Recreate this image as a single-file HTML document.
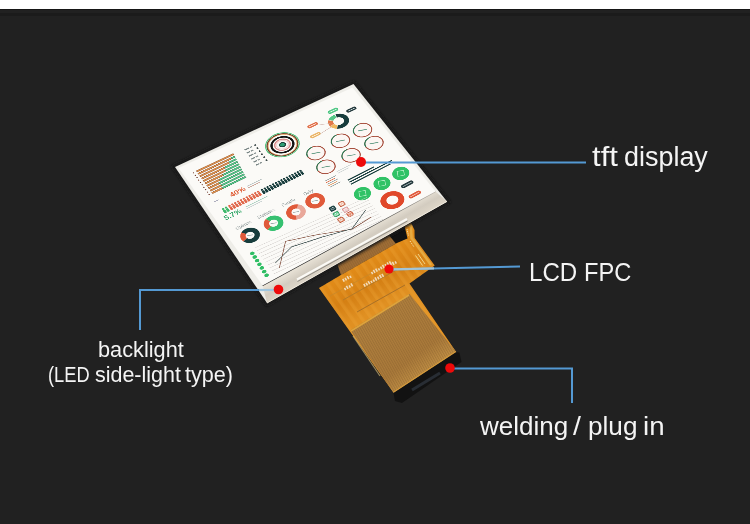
<!DOCTYPE html>
<html><head><meta charset="utf-8">
<style>
html,body{margin:0;padding:0;}
body{width:750px;height:524px;overflow:hidden;background:#212121;position:relative;font-family:"Liberation Sans",sans-serif;}
#top{position:absolute;left:0;top:0;width:750px;height:9px;background:#fff;}
#strip{position:absolute;left:0;top:9px;width:750px;height:1px;background:#161616;}
#strip2{position:absolute;left:0;top:13px;width:750px;height:3px;background:#1b1b1b;}
.abs{position:absolute;left:0;top:0;}
#mod{position:absolute;left:0;top:0;width:470px;height:355px;transform-origin:0 0;
 transform:matrix3d(0.4411168484,-0.1536762916,0,0.0002011463331,0.2080369135,0.2996042959,0,-0.0001099181072,0,0,1,0,178.5,168,0,1);}
#mod svg{display:block;}
.t{position:absolute;color:#f4f4f4;white-space:pre;transform-origin:0 0;line-height:1;}
</style></head><body>
<div id="top"></div>
<div id="strip"></div>
<div id="strip2"></div>
<svg class="abs" width="750" height="524" viewBox="0 0 750 524">
<defs>
  <linearGradient id="gb" gradientUnits="userSpaceOnUse" x1="370" y1="262" x2="392" y2="300">
   <stop offset="0" stop-color="#e08a18"/>
   <stop offset="0.5" stop-color="#d58014"/>
   <stop offset="1" stop-color="#e09022"/>
  </linearGradient>
  <linearGradient id="gt" gradientUnits="userSpaceOnUse" x1="380" y1="312" x2="425" y2="372">
   <stop offset="0" stop-color="#b0803e"/>
   <stop offset="0.75" stop-color="#aa7a3a"/>
   <stop offset="1" stop-color="#bf8e44"/>
  </linearGradient>
  <pattern id="vs" patternUnits="userSpaceOnUse" width="2.2" height="2.2" patternTransform="rotate(-30)">
   <rect x="0" y="0" width="1" height="2.2" fill="#7a5628" opacity="0.35"/>
  </pattern>
  <pattern id="bs" patternUnits="userSpaceOnUse" width="8" height="8" patternTransform="rotate(-35)">
   <rect x="0" y="0" width="3.5" height="8" fill="#f0a838" opacity="0.3"/>
  </pattern>
 </defs>
<polygon points="337,263 392,232 397,243 341,275" fill="#a06e36"/>
<polygon points="337,263 392,232 397,243 341,275" fill="url(#vs)"/>
<polygon points="388,234 405,225 408,239 397,245" fill="#121212"/>
<polygon points="319,288 341,275 397,243 407.5,238.5 404,223.5 411,223 414.5,230 414.6,238 434.7,265.6 409.5,283.5 456,351.7 393.5,392.4" fill="url(#gb)"/>
<polygon points="319,288 341,275 397,243 407.5,238.5 404,223.5 411,223 414.5,230 414.6,238 434.7,265.6 409.5,283.5 456,351.7 393.5,392.4" fill="url(#bs)"/>
<polyline points="406,224 411,226 411.5,238 431,265" fill="none" stroke="#e6aa40" stroke-width="2.5"/>
<line x1="407" y1="229" x2="408.5" y2="236" stroke="#f4e4b0" stroke-width="1" stroke-dasharray="1.2,1"/>
<line x1="410" y1="241" x2="414" y2="247" stroke="#f4e4b0" stroke-width="1" stroke-dasharray="1.2,1"/>
<line x1="418" y1="254" x2="425" y2="264" stroke="#f2d88a" stroke-width="1"/>
<line x1="415.5" y1="255.5" x2="422.5" y2="265.5" stroke="#f2d88a" stroke-width="1"/>
<polygon points="350.5,330.3 409.5,293.9 456,351.7 393.5,392.4" fill="url(#gt)"/>
<polygon points="350.5,330.3 409.5,293.9 456,351.7 393.5,392.4" fill="url(#vs)"/>
<line x1="351" y1="331" x2="409" y2="295" stroke="#e0a43a" stroke-width="1.5"/>
<line x1="357" y1="312" x2="405" y2="285" stroke="#a87028" stroke-width="1"/>
<line x1="343" y1="300" x2="398" y2="269" stroke="#b47a28" stroke-width="1"/>
<line x1="330" y1="296" x2="392" y2="262" stroke="#c8882a" stroke-width="0.8"/>
<g transform="translate(372,274.5) rotate(-28)"><rect x="0.0" y="-2.5" width="1.6" height="2.5" fill="#f8efe0" opacity="0.8"/><rect x="2.6" y="-3.5" width="1.6" height="3.5" fill="#f8efe0" opacity="0.8"/><rect x="5.2" y="-3.5" width="1.6" height="3.5" fill="#f8efe0" opacity="0.8"/><rect x="7.8" y="-2.5" width="1.6" height="2.5" fill="#f8efe0" opacity="0.8"/><rect x="10.4" y="-3.0" width="1.6" height="3" fill="#f8efe0" opacity="0.8"/><rect x="13.0" y="-3.5" width="1.6" height="3.5" fill="#f8efe0" opacity="0.8"/><rect x="15.6" y="-3.0" width="1.6" height="3" fill="#f8efe0" opacity="0.8"/><rect x="18.2" y="-3.5" width="1.6" height="3.5" fill="#f8efe0" opacity="0.8"/><rect x="20.8" y="-3.5" width="1.6" height="3.5" fill="#f8efe0" opacity="0.8"/></g>
<g transform="translate(391,266.5) rotate(-28)"><rect x="0.0" y="-2.5" width="1.6" height="2.5" fill="#f8efe0" opacity="0.8"/><rect x="2.6" y="-3.5" width="1.6" height="3.5" fill="#f8efe0" opacity="0.8"/><rect x="5.2" y="-2.5" width="1.6" height="2.5" fill="#f8efe0" opacity="0.8"/></g>
<g transform="translate(364.5,287) rotate(-28)"><rect x="0.0" y="-3.0" width="1.6" height="3" fill="#f8efe0" opacity="0.8"/><rect x="2.6" y="-3.0" width="1.6" height="3" fill="#f8efe0" opacity="0.8"/><rect x="5.2" y="-3.5" width="1.6" height="3.5" fill="#f8efe0" opacity="0.8"/><rect x="7.8" y="-2.5" width="1.6" height="2.5" fill="#f8efe0" opacity="0.8"/><rect x="10.4" y="-2.5" width="1.6" height="2.5" fill="#f8efe0" opacity="0.8"/><rect x="13.0" y="-3.5" width="1.6" height="3.5" fill="#f8efe0" opacity="0.8"/><rect x="15.6" y="-3.0" width="1.6" height="3" fill="#f8efe0" opacity="0.8"/><rect x="18.2" y="-3.5" width="1.6" height="3.5" fill="#f8efe0" opacity="0.8"/><rect x="20.8" y="-3.5" width="1.6" height="3.5" fill="#f8efe0" opacity="0.8"/></g>
<g transform="translate(343.5,282) rotate(-28)"><rect x="0.0" y="-3.0" width="1.6" height="3" fill="#f8efe0" opacity="0.8"/><rect x="2.6" y="-3.0" width="1.6" height="3" fill="#f8efe0" opacity="0.8"/><rect x="5.2" y="-3.5" width="1.6" height="3.5" fill="#f8efe0" opacity="0.8"/><rect x="7.8" y="-2.5" width="1.6" height="2.5" fill="#f8efe0" opacity="0.8"/></g>
<g transform="translate(345,290.5) rotate(-28)"><rect x="0.0" y="-2.5" width="1.6" height="2.5" fill="#f8efe0" opacity="0.8"/><rect x="2.6" y="-3.5" width="1.6" height="3.5" fill="#f8efe0" opacity="0.8"/><rect x="5.2" y="-2.5" width="1.6" height="2.5" fill="#f8efe0" opacity="0.8"/><rect x="7.8" y="-3.5" width="1.6" height="3.5" fill="#f8efe0" opacity="0.8"/></g>
<line x1="353" y1="336" x2="380" y2="376" stroke="#f0d080" stroke-width="1.2" opacity="0.6"/>
<line x1="393.5" y1="392.4" x2="456" y2="351.7" stroke="#d49a3c" stroke-width="1.5"/>
<polygon points="393.5,393 456,352.2 459.4,352.5 461.5,362 402,403 395,401" fill="#121212"/>
<line x1="412" y1="390" x2="440" y2="373" stroke="#3a4450" stroke-width="3" opacity="0.55"/>
</svg>
<svg class="abs" width="750" height="524" viewBox="0 0 750 524">
 <defs>
  <linearGradient id="bz" gradientUnits="userSpaceOnUse" x1="349" y1="238" x2="357" y2="252">
   <stop offset="0" stop-color="#e8e2d6"/>
   <stop offset="0.55" stop-color="#d3ccc0"/>
   <stop offset="1" stop-color="#ddd5c7"/>
  </linearGradient>
  <linearGradient id="bl" gradientUnits="userSpaceOnUse" x1="262" y1="285" x2="436" y2="191">
   <stop offset="0" stop-color="#1a1a1a"/>
   <stop offset="0.6" stop-color="#2a2a2a"/>
   <stop offset="1" stop-color="#b8b2a8"/>
  </linearGradient>
  <filter id="blr" x="-10%" y="-10%" width="120%" height="120%"><feGaussianBlur stdDeviation="1.5"/></filter>
 </defs>
 <polygon points="175,167 353.5,84 447,201.4 267,303" fill="none" stroke="#121212" stroke-width="5" filter="url(#blr)"/>
 <polygon points="175,167 353.5,84 447,201.4 267,303" fill="#eeede8"/>
 <polygon points="262.6,285.5 435.5,191.5 447,201.4 267,303" fill="url(#bz)"/>
 <line x1="262.6" y1="285.5" x2="435.5" y2="191.5" stroke="url(#bl)" stroke-width="1.3"/>
 <line x1="297" y1="279.5" x2="407" y2="219" stroke="#fbfaf6" stroke-width="2"/>
 <line x1="297.5" y1="281.5" x2="407.5" y2="221" stroke="#8d8982" stroke-width="1"/>
 <line x1="267" y1="303" x2="447" y2="201.4" stroke="#eee8dc" stroke-width="1"/>
</svg>

<div id="mod">
<svg width="470" height="355" viewBox="0 0 470 355">
<rect x="0" y="0" width="470" height="355" fill="#fbfaf7"/>
<circle cx="21.5" cy="28.0" r="1.5" fill="#6a3325"/>
<rect x="123.0" y="26.0" width="0.0" height="4" fill="#58c489" stroke="#2a7a50" stroke-width="0.8"/>
<rect x="29" y="26.0" width="94.0" height="4" fill="#d9904e" stroke="#8a4a25" stroke-width="0.8"/>
<circle cx="21.5" cy="35.5" r="1.5" fill="#6a3325"/>
<rect x="112.7" y="33.5" width="9.3" height="4" fill="#58c489" stroke="#2a7a50" stroke-width="0.8"/>
<rect x="29" y="33.5" width="83.7" height="4" fill="#d9904e" stroke="#8a4a25" stroke-width="0.8"/>
<circle cx="21.5" cy="43.0" r="1.5" fill="#6a3325"/>
<rect x="102.6" y="41.0" width="18.4" height="4" fill="#58c489" stroke="#2a7a50" stroke-width="0.8"/>
<rect x="29" y="41.0" width="73.6" height="4" fill="#d9904e" stroke="#8a4a25" stroke-width="0.8"/>
<circle cx="21.5" cy="50.5" r="1.5" fill="#6a3325"/>
<rect x="87.2" y="48.5" width="32.8" height="4" fill="#58c489" stroke="#2a7a50" stroke-width="0.8"/>
<rect x="29" y="48.5" width="58.2" height="4" fill="#d9904e" stroke="#8a4a25" stroke-width="0.8"/>
<circle cx="21.5" cy="58.0" r="1.5" fill="#6a3325"/>
<rect x="84.8" y="56.0" width="34.2" height="4" fill="#58c489" stroke="#2a7a50" stroke-width="0.8"/>
<rect x="29" y="56.0" width="55.8" height="4" fill="#d9904e" stroke="#8a4a25" stroke-width="0.8"/>
<circle cx="21.5" cy="65.5" r="1.5" fill="#6a3325"/>
<rect x="73.5" y="63.5" width="44.5" height="4" fill="#58c489" stroke="#2a7a50" stroke-width="0.8"/>
<rect x="29" y="63.5" width="44.5" height="4" fill="#d9904e" stroke="#8a4a25" stroke-width="0.8"/>
<circle cx="21.5" cy="73.0" r="1.5" fill="#6a3325"/>
<rect x="60.7" y="71.0" width="56.3" height="4" fill="#58c489" stroke="#2a7a50" stroke-width="0.8"/>
<rect x="29" y="71.0" width="31.7" height="4" fill="#d9904e" stroke="#8a4a25" stroke-width="0.8"/>
<circle cx="21.5" cy="80.5" r="1.5" fill="#6a3325"/>
<rect x="55.1" y="78.5" width="60.9" height="4" fill="#58c489" stroke="#2a7a50" stroke-width="0.8"/>
<rect x="29" y="78.5" width="26.1" height="4" fill="#d9904e" stroke="#8a4a25" stroke-width="0.8"/>
<circle cx="21.5" cy="88.0" r="1.5" fill="#6a3325"/>
<rect x="56.5" y="86.0" width="58.5" height="4" fill="#58c489" stroke="#2a7a50" stroke-width="0.8"/>
<rect x="29" y="86.0" width="27.5" height="4" fill="#d9904e" stroke="#8a4a25" stroke-width="0.8"/>
<circle cx="21.5" cy="95.5" r="1.5" fill="#6a3325"/>
<rect x="54.5" y="93.5" width="59.5" height="4" fill="#58c489" stroke="#2a7a50" stroke-width="0.8"/>
<rect x="29" y="93.5" width="25.5" height="4" fill="#d9904e" stroke="#8a4a25" stroke-width="0.8"/>
<rect x="150" y="29.0" width="12" height="3.2" fill="#7a8686"/>
<rect x="164" y="29.0" width="6" height="3.2" fill="#8a9494"/>
<rect x="176" y="28.7" width="4" height="4" fill="#3a4646"/>
<rect x="150" y="38.8" width="9" height="3.2" fill="#7a8686"/>
<rect x="161" y="38.8" width="6" height="3.2" fill="#8a9494"/>
<rect x="176" y="38.5" width="4" height="4" fill="#3a4646"/>
<rect x="150" y="48.6" width="11" height="3.2" fill="#7a8686"/>
<rect x="163" y="48.6" width="6" height="3.2" fill="#8a9494"/>
<rect x="176" y="48.3" width="4" height="4" fill="#3a4646"/>
<rect x="150" y="58.4" width="10" height="3.2" fill="#7a8686"/>
<rect x="162" y="58.4" width="6" height="3.2" fill="#8a9494"/>
<rect x="176" y="58.1" width="4" height="4" fill="#3a4646"/>
<rect x="150" y="68.2" width="9" height="3.2" fill="#7a8686"/>
<rect x="161" y="68.2" width="6" height="3.2" fill="#8a9494"/>
<rect x="176" y="67.9" width="4" height="4" fill="#3a4646"/>
<rect x="150" y="78.0" width="8" height="3.2" fill="#7a8686"/>
<rect x="160" y="78.0" width="6" height="3.2" fill="#8a9494"/>
<rect x="176" y="77.7" width="4" height="4" fill="#3a4646"/>
<g transform="translate(232.70,60.96) matrix(39.5385,12.7131,-14.3557,32.5885,0,0)">
<circle r="0.95" fill="none" stroke="#4cc47a" stroke-width="0.06"/>
<circle r="0.87" fill="none" stroke="#6a4028" stroke-width="0.07"/>
<circle r="0.81" fill="none" stroke="#e8a060" stroke-width="0.04"/>
<circle r="0.62" fill="none" stroke="#121212" stroke-width="0.13"/>
<circle r="0.44" fill="none" stroke="#d98a8a" stroke-width="0.08"/>
<circle r="0.34" fill="none" stroke="#f3d2d2" stroke-width="0.07"/>
<circle r="0.17" fill="#2f9e74" stroke="#1c3f3a" stroke-width="0.07"/>
</g>
<g transform="translate(419.50,119.60) matrix(23.0874,7.4184,-9.1326,18.9647,0,0)">
<circle r="0.94" fill="#fcf6f3" stroke="#a8503f" stroke-width="0.12"/>
<path d="M-0.8833,0.3215 A0.94,0.94 0 0 1 -0.3215,-0.8833" fill="none" stroke="#2f7a55" stroke-width="0.12"/>
<rect x="-0.45" y="-0.06" width="0.9" height="0.12" fill="#6aa08a"/>
</g>
<g transform="translate(421.87,165.14) matrix(22.9982,7.5491,-9.1026,18.7185,0,0)">
<circle r="0.94" fill="#fcf6f3" stroke="#a8503f" stroke-width="0.12"/>
<path d="M-0.8833,0.3215 A0.94,0.94 0 0 1 -0.3215,-0.8833" fill="none" stroke="#2f7a55" stroke-width="0.12"/>
<rect x="-0.45" y="-0.06" width="0.9" height="0.12" fill="#6aa08a"/>
</g>
<g transform="translate(356.12,119.37) matrix(22.5893,7.3295,-8.7948,18.7403,0,0)">
<circle r="0.94" fill="#fcf6f3" stroke="#a8503f" stroke-width="0.12"/>
<path d="M-0.8833,0.3215 A0.94,0.94 0 0 1 -0.3215,-0.8833" fill="none" stroke="#2f7a55" stroke-width="0.12"/>
<rect x="-0.45" y="-0.06" width="0.9" height="0.12" fill="#6aa08a"/>
</g>
<g transform="translate(287.07,119.93) matrix(22.0510,7.2348,-8.4324,18.4913,0,0)">
<circle r="0.94" fill="#fcf6f3" stroke="#a8503f" stroke-width="0.12"/>
<path d="M-0.8833,0.3215 A0.94,0.94 0 0 1 -0.3215,-0.8833" fill="none" stroke="#2f7a55" stroke-width="0.12"/>
<rect x="-0.45" y="-0.06" width="0.9" height="0.12" fill="#6aa08a"/>
</g>
<g transform="translate(354.69,167.01) matrix(22.4665,7.4585,-8.7438,18.4711,0,0)">
<circle r="0.94" fill="#fcf6f3" stroke="#a8503f" stroke-width="0.12"/>
<path d="M-0.8833,0.3215 A0.94,0.94 0 0 1 -0.3215,-0.8833" fill="none" stroke="#2f7a55" stroke-width="0.12"/>
<rect x="-0.45" y="-0.06" width="0.9" height="0.12" fill="#6aa08a"/>
</g>
<g transform="translate(285.89,164.58) matrix(21.9384,7.3540,-8.3867,18.2416,0,0)">
<circle r="0.94" fill="#fcf6f3" stroke="#a8503f" stroke-width="0.12"/>
<path d="M-0.8833,0.3215 A0.94,0.94 0 0 1 -0.3215,-0.8833" fill="none" stroke="#2f7a55" stroke-width="0.12"/>
<rect x="-0.45" y="-0.06" width="0.9" height="0.12" fill="#6aa08a"/>
</g>
<g transform="translate(383.92,68.89) matrix(24.7978,7.8164,-9.2387,19.6532,0,0)">
<path d="M-0.1320,-0.7485 A0.76,0.76 0 1 1 -0.1967,0.7341" fill="none" stroke="#173c3c" stroke-width="0.48"/>
<path d="M-0.2349,0.7228 A0.76,0.76 0 0 1 -0.6582,0.3800" fill="none" stroke="#f0b860" stroke-width="0.48"/>
<path d="M-0.6710,0.3568 A0.76,0.76 0 0 1 -0.7142,-0.2599" fill="none" stroke="#e2784a" stroke-width="0.48"/>
<path d="M-0.6996,-0.2970 A0.76,0.76 0 0 1 -0.1967,-0.7341" fill="none" stroke="#52c786" stroke-width="0.48"/>
</g>
<rect x="375.3" y="31.2" width="28" height="10" rx="5.0" fill="#52c786"/><rect x="379.3" y="35.2" width="20" height="2" fill="#e6fff0"/>
<rect x="416.1" y="50.6" width="28" height="9" rx="4.5" fill="#24383c"/><rect x="420.1" y="54.1" width="20" height="2" fill="#cfdede"/>
<rect x="309.7" y="43.7" width="28" height="9" rx="4.5" fill="#e0704a"/><rect x="313.7" y="47.2" width="20" height="2" fill="#ffe4da"/>
<rect x="299.6" y="71.6" width="28" height="9" rx="4.5" fill="#eab468"/><rect x="303.6" y="75.1" width="20" height="2" fill="#fff4dd"/>
<path d="M335.1,54.0 L362.3,64.4 M324.9,78.5 L361.6,74.2" stroke="#c9a8a0" stroke-width="1.2" fill="none"/>
<text x="59" y="127" font-family="Liberation Sans" font-weight="bold" font-size="17" fill="#e0603a" textLength="38" lengthAdjust="spacingAndGlyphs">40%</text>
<rect x="103" y="118" width="38" height="2" fill="#b9c2c2"/><rect x="103" y="123" width="30" height="2" fill="#c9a59a"/>
<rect x="20" y="117" width="12" height="2" fill="#aab"/>
<circle cx="28.0" cy="144.0" r="2.6" fill="#3cb86a"/><rect x="25.1" y="146.7" width="5.8" height="9.5" rx="1.8" fill="#3cb86a"/>
<circle cx="35.3" cy="144.0" r="2.6" fill="#3cb86a"/><rect x="32.4" y="146.7" width="5.8" height="9.5" rx="1.8" fill="#3cb86a"/>
<circle cx="44.0" cy="144.0" r="2.6" fill="#e0674a"/><rect x="41.1" y="146.7" width="5.8" height="9.5" rx="1.8" fill="#e0674a"/>
<circle cx="51.3" cy="144.0" r="2.6" fill="#e0674a"/><rect x="48.4" y="146.7" width="5.8" height="9.5" rx="1.8" fill="#e0674a"/>
<circle cx="58.6" cy="144.0" r="2.6" fill="#e0674a"/><rect x="55.7" y="146.7" width="5.8" height="9.5" rx="1.8" fill="#e0674a"/>
<circle cx="65.9" cy="144.0" r="2.6" fill="#e0674a"/><rect x="63.0" y="146.7" width="5.8" height="9.5" rx="1.8" fill="#e0674a"/>
<circle cx="73.2" cy="144.0" r="2.6" fill="#e0674a"/><rect x="70.3" y="146.7" width="5.8" height="9.5" rx="1.8" fill="#e0674a"/>
<circle cx="80.5" cy="144.0" r="2.6" fill="#e0674a"/><rect x="77.6" y="146.7" width="5.8" height="9.5" rx="1.8" fill="#e0674a"/>
<circle cx="87.8" cy="144.0" r="2.6" fill="#e0674a"/><rect x="84.9" y="146.7" width="5.8" height="9.5" rx="1.8" fill="#e0674a"/>
<circle cx="95.1" cy="144.0" r="2.6" fill="#e0674a"/><rect x="92.2" y="146.7" width="5.8" height="9.5" rx="1.8" fill="#e0674a"/>
<circle cx="102.4" cy="144.0" r="2.6" fill="#e0674a"/><rect x="99.5" y="146.7" width="5.8" height="9.5" rx="1.8" fill="#e0674a"/>
<circle cx="109.7" cy="144.0" r="2.6" fill="#e0674a"/><rect x="106.8" y="146.7" width="5.8" height="9.5" rx="1.8" fill="#e0674a"/>
<circle cx="117.0" cy="144.0" r="2.6" fill="#e0674a"/><rect x="114.1" y="146.7" width="5.8" height="9.5" rx="1.8" fill="#e0674a"/>
<circle cx="127.0" cy="144.0" r="2.6" fill="#173c3c"/><rect x="124.1" y="146.7" width="5.8" height="9.5" rx="1.8" fill="#173c3c"/>
<circle cx="134.3" cy="144.0" r="2.6" fill="#173c3c"/><rect x="131.4" y="146.7" width="5.8" height="9.5" rx="1.8" fill="#173c3c"/>
<circle cx="141.6" cy="144.0" r="2.6" fill="#173c3c"/><rect x="138.7" y="146.7" width="5.8" height="9.5" rx="1.8" fill="#173c3c"/>
<circle cx="148.9" cy="144.0" r="2.6" fill="#173c3c"/><rect x="146.0" y="146.7" width="5.8" height="9.5" rx="1.8" fill="#173c3c"/>
<circle cx="156.2" cy="144.0" r="2.6" fill="#173c3c"/><rect x="153.3" y="146.7" width="5.8" height="9.5" rx="1.8" fill="#173c3c"/>
<circle cx="163.5" cy="144.0" r="2.6" fill="#173c3c"/><rect x="160.6" y="146.7" width="5.8" height="9.5" rx="1.8" fill="#173c3c"/>
<circle cx="170.8" cy="144.0" r="2.6" fill="#173c3c"/><rect x="167.9" y="146.7" width="5.8" height="9.5" rx="1.8" fill="#173c3c"/>
<circle cx="178.1" cy="144.0" r="2.6" fill="#173c3c"/><rect x="175.2" y="146.7" width="5.8" height="9.5" rx="1.8" fill="#173c3c"/>
<circle cx="185.4" cy="144.0" r="2.6" fill="#173c3c"/><rect x="182.5" y="146.7" width="5.8" height="9.5" rx="1.8" fill="#173c3c"/>
<circle cx="192.7" cy="144.0" r="2.6" fill="#173c3c"/><rect x="189.8" y="146.7" width="5.8" height="9.5" rx="1.8" fill="#173c3c"/>
<circle cx="200.0" cy="144.0" r="2.6" fill="#173c3c"/><rect x="197.1" y="146.7" width="5.8" height="9.5" rx="1.8" fill="#173c3c"/>
<circle cx="207.3" cy="144.0" r="2.6" fill="#173c3c"/><rect x="204.4" y="146.7" width="5.8" height="9.5" rx="1.8" fill="#173c3c"/>
<circle cx="214.6" cy="144.0" r="2.6" fill="#173c3c"/><rect x="211.7" y="146.7" width="5.8" height="9.5" rx="1.8" fill="#173c3c"/>
<circle cx="221.9" cy="144.0" r="2.6" fill="#173c3c"/><rect x="219.0" y="146.7" width="5.8" height="9.5" rx="1.8" fill="#173c3c"/>
<circle cx="229.2" cy="144.0" r="2.6" fill="#173c3c"/><rect x="226.3" y="146.7" width="5.8" height="9.5" rx="1.8" fill="#173c3c"/>
<text x="18" y="173" font-family="Liberation Sans" font-weight="bold" font-size="17" fill="#34a86a" textLength="41" lengthAdjust="spacingAndGlyphs">5.7%</text>
<rect x="72" y="164" width="56" height="2" fill="#aacfc0"/><rect x="72" y="169" width="40" height="2" fill="#c9d2d2"/>
<text x="44" y="207" text-anchor="middle" font-family="Liberation Sans" font-size="11" fill="#8b9696">Options</text>
<text x="102" y="207" text-anchor="middle" font-family="Liberation Sans" font-size="11" fill="#8b9696">Statistics</text>
<text x="160" y="207" text-anchor="middle" font-family="Liberation Sans" font-size="11" fill="#8b9696">People</text>
<text x="213" y="207" text-anchor="middle" font-family="Liberation Sans" font-size="11" fill="#8b9696">Daily</text>
<g transform="translate(42.70,233.15) matrix(20.1530,7.2526,-7.5095,17.9661,0,0)"><path d="M-0.5980,-0.4187 A0.73,0.73 0 1 1 -0.5592,0.4692" fill="none" stroke="#173c3c" stroke-width="0.54"/><path d="M-0.5592,0.4692 A0.73,0.73 0 0 1 -0.5980,-0.4187" fill="none" stroke="#e05a3a" stroke-width="0.54"/><rect x="-0.3" y="-0.05" width="0.6" height="0.1" fill="#9aa"/></g>
<g transform="translate(102.55,233.12) matrix(20.6005,7.3414,-7.8163,18.1863,0,0)"><path d="M-0.5162,-0.5162 A0.73,0.73 0 1 1 -0.5162,0.5162" fill="none" stroke="#36c070" stroke-width="0.54"/><path d="M-0.5162,0.5162 A0.73,0.73 0 0 1 -0.5162,-0.5162" fill="none" stroke="#e05a3a" stroke-width="0.54"/><rect x="-0.3" y="-0.05" width="0.6" height="0.1" fill="#9aa"/></g>
<g transform="translate(160.50,233.84) matrix(21.0368,7.4293,-8.1177,18.3953,0,0)"><path d="M0.2497,-0.6860 A0.73,0.73 0 0 1 -0.0636,0.7272" fill="none" stroke="#e9a89a" stroke-width="0.54"/><path d="M-0.0636,0.7272 A0.73,0.73 0 1 1 0.2497,-0.6860" fill="none" stroke="#e05a3a" stroke-width="0.54"/><rect x="-0.3" y="-0.05" width="0.6" height="0.1" fill="#9aa"/></g>
<g transform="translate(213.60,230.83) matrix(21.4491,7.5002,-8.4015,18.6076,0,0)"><path d="M0.0000,-0.7300 A0.73,0.73 0 1 1 -0.0013,-0.7300" fill="none" stroke="#e05a3a" stroke-width="0.54"/><rect x="-0.3" y="-0.05" width="0.6" height="0.1" fill="#9aa"/></g>
<rect x="229.5" y="263.5" width="13" height="11" rx="2.5" fill="#24484a" stroke="#173c3c" stroke-width="2"/>
<rect x="233" y="266.5" width="6" height="5" fill="none" stroke="#ffffff" stroke-width="1" opacity="0.8"/>
<rect x="254.5" y="263.5" width="13" height="11" rx="2.5" fill="#f4c6b2" stroke="#c0583a" stroke-width="2"/>
<rect x="258" y="266.5" width="6" height="5" fill="none" stroke="#ffffff" stroke-width="1" opacity="0.8"/>
<rect x="228.5" y="280.5" width="13" height="11" rx="2.5" fill="#6cd69a" stroke="#2e9a60" stroke-width="2"/>
<rect x="232" y="283.5" width="6" height="5" fill="none" stroke="#ffffff" stroke-width="1" opacity="0.8"/>
<rect x="253.5" y="281.5" width="13" height="11" rx="2.5" fill="#f6cfcf" stroke="#d99090" stroke-width="2"/>
<rect x="257" y="284.5" width="6" height="5" fill="none" stroke="#ffffff" stroke-width="1" opacity="0.8"/>
<rect x="229.5" y="298.5" width="13" height="11" rx="2.5" fill="#f0b49a" stroke="#c0583a" stroke-width="2"/>
<rect x="233" y="301.5" width="6" height="5" fill="none" stroke="#ffffff" stroke-width="1" opacity="0.8"/>
<rect x="255.5" y="296.5" width="13" height="11" rx="2.5" fill="#e88a6a" stroke="#c8482a" stroke-width="2"/>
<rect x="259" y="299.5" width="6" height="5" fill="none" stroke="#ffffff" stroke-width="1" opacity="0.8"/>
<rect x="262" y="196" width="30" height="2" fill="#9aa4a4"/><rect x="262" y="201" width="24" height="2" fill="#e0704a"/><rect x="262" y="206" width="30" height="2" fill="#9aa4a4"/><rect x="262" y="211" width="24" height="2" fill="#e0a070"/><rect x="262" y="216" width="30" height="2" fill="#9aa4a4"/>
<rect x="300" y="188" width="40" height="1.5" fill="#c0c8c8"/><rect x="300" y="193" width="30" height="1.5" fill="#c0c8c8"/>
<line x1="309" y1="222" x2="383" y2="222" stroke="#173c3c" stroke-width="3"/>
<line x1="309" y1="228.5" x2="431" y2="228.5" stroke="#173c3c" stroke-width="3"/>
<line x1="309" y1="235" x2="422" y2="235" stroke="#173c3c" stroke-width="3"/>
<g transform="translate(317.65,270.46) matrix(19.2510,6.7414,-7.7519,16.2941,0,0)">
<circle r="1" fill="#30c266"/>
<rect x="-0.38" y="-0.4" width="0.76" height="0.75" fill="none" stroke="#b8f0c8" stroke-width="0.08"/>
</g>
<g transform="translate(373.01,270.46) matrix(19.6276,6.8140,-8.0166,16.4695,0,0)">
<circle r="1" fill="#30c266"/>
<rect x="-0.38" y="-0.4" width="0.76" height="0.75" fill="none" stroke="#b8f0c8" stroke-width="0.08"/>
</g>
<g transform="translate(427.79,270.07) matrix(20.0048,6.8849,-8.2828,16.6451,0,0)">
<circle r="1" fill="#30c266"/>
<rect x="-0.38" y="-0.4" width="0.76" height="0.75" fill="none" stroke="#b8f0c8" stroke-width="0.08"/>
</g>
<g transform="translate(367.63,321.50) matrix(27.4158,9.7441,-10.7175,21.8428,0,0)">
<circle r="0.75" fill="none" stroke="#e0482a" stroke-width="0.5"/>
</g>
<rect x="406.4" y="298.5" width="34" height="10" rx="5.0" fill="#24383c"/><rect x="410.4" y="302.5" width="26" height="2" fill="#aab8b8"/>
<rect x="405.3" y="331.2" width="34" height="10" rx="5.0" fill="#e0583a"/><rect x="409.3" y="335.2" width="26" height="2" fill="#f8c0b0"/>
<ellipse cx="23.0" cy="275.0" rx="5" ry="4.3" fill="#2fbe64"/>
<ellipse cx="22.6" cy="285.5" rx="5" ry="4.3" fill="#2fbe64"/>
<ellipse cx="22.1" cy="296.0" rx="5" ry="4.3" fill="#2fbe64"/>
<ellipse cx="21.6" cy="306.5" rx="5" ry="4.3" fill="#2fbe64"/>
<ellipse cx="21.2" cy="317.0" rx="5" ry="4.3" fill="#2fbe64"/>
<ellipse cx="20.8" cy="327.5" rx="5" ry="4.3" fill="#2fbe64"/>
<ellipse cx="20.3" cy="338.0" rx="5" ry="4.3" fill="#2fbe64"/>
<line x1="35" y1="266.0" x2="320" y2="284.5" stroke="#d6d2cf" stroke-width="1.2"/>
<line x1="35" y1="274.6" x2="320" y2="293.1" stroke="#d6d2cf" stroke-width="1.2"/>
<line x1="35" y1="283.2" x2="320" y2="301.7" stroke="#d6d2cf" stroke-width="1.2"/>
<line x1="35" y1="291.8" x2="320" y2="310.3" stroke="#d6d2cf" stroke-width="1.2"/>
<line x1="35" y1="300.4" x2="320" y2="318.9" stroke="#d6d2cf" stroke-width="1.2"/>
<line x1="35" y1="309.0" x2="320" y2="327.5" stroke="#d6d2cf" stroke-width="1.2"/>
<line x1="35" y1="317.6" x2="320" y2="336.1" stroke="#d6d2cf" stroke-width="1.2"/>
<line x1="35" y1="326.2" x2="320" y2="344.7" stroke="#d6d2cf" stroke-width="1.2"/>
<line x1="35" y1="334.8" x2="320" y2="353.3" stroke="#d6d2cf" stroke-width="1.2"/>
<line x1="35" y1="343.4" x2="320" y2="361.9" stroke="#d6d2cf" stroke-width="1.2"/>
<polyline points="53,337 100,287 166,308 243,338 300,334" fill="none" stroke="#8a5a4a" stroke-width="1.8"/>
<polyline points="52,322 104,306 174,320 244,337 298,312" fill="none" stroke="#4a5a5a" stroke-width="1.8"/>
</svg>
</div>
<svg class="abs" width="750" height="524" viewBox="0 0 750 524">
 <g fill="none" stroke="#5499d3" stroke-width="2">
  <polyline points="361,162.5 586,162.5"/>
  <polyline points="389,269.5 520,266.5"/>
  <polyline points="278,290 140,290 140,330"/>
  <polyline points="450,368.5 572,368.5 572,403"/>
 </g>
 <line x1="392" y1="269.4" x2="434" y2="268.4" stroke="#a3c4d6" stroke-width="2.4"/>
 <line x1="259" y1="290" x2="275" y2="290" stroke="#9ec6e0" stroke-width="2.2"/>
 <g fill="#ee0a0a">
  <circle cx="361" cy="162" r="5"/>
  <circle cx="389" cy="269" r="4.6"/>
  <circle cx="278.5" cy="289.5" r="4.8"/>
  <circle cx="450" cy="368" r="4.8"/>
 </g>
</svg>
<div class="t" style="left:592.39px;top:142.68px;font-size:27.7px;transform:scaleX(1.1227)">tft</div>
<div class="t" style="left:623.92px;top:142.68px;font-size:27.7px;transform:scaleX(0.9725)">display</div>
<div class="t" style="left:528.97px;top:258.78px;font-size:26.3px;transform:scaleX(0.9170)">LCD</div>
<div class="t" style="left:583.71px;top:258.78px;font-size:26.3px;transform:scaleX(0.8980)">FPC</div>
<div class="t" style="left:97.70px;top:339.35px;font-size:22.5px;transform:scaleX(0.9656)">backlight</div>
<div class="t" style="left:47.60px;top:364.25px;font-size:22.5px;transform:scaleX(0.8131)">(LED</div>
<div class="t" style="left:94.56px;top:364.25px;font-size:22.5px;transform:scaleX(0.9538)">side-light</div>
<div class="t" style="left:185.38px;top:364.25px;font-size:22.5px;transform:scaleX(0.9592)">type)</div>
<div class="t" style="left:479.70px;top:414.00px;font-size:25.0px;transform:scaleX(1.0414)">welding</div>
<div class="t" style="left:573.20px;top:414.00px;font-size:25.0px;transform:scaleX(1.1429)">/</div>
<div class="t" style="left:588.43px;top:414.00px;font-size:25.0px;transform:scaleX(1.0463)">plug</div>
<div class="t" style="left:643.06px;top:414.00px;font-size:25.0px;transform:scaleX(1.1063)">in</div>
</body></html>
